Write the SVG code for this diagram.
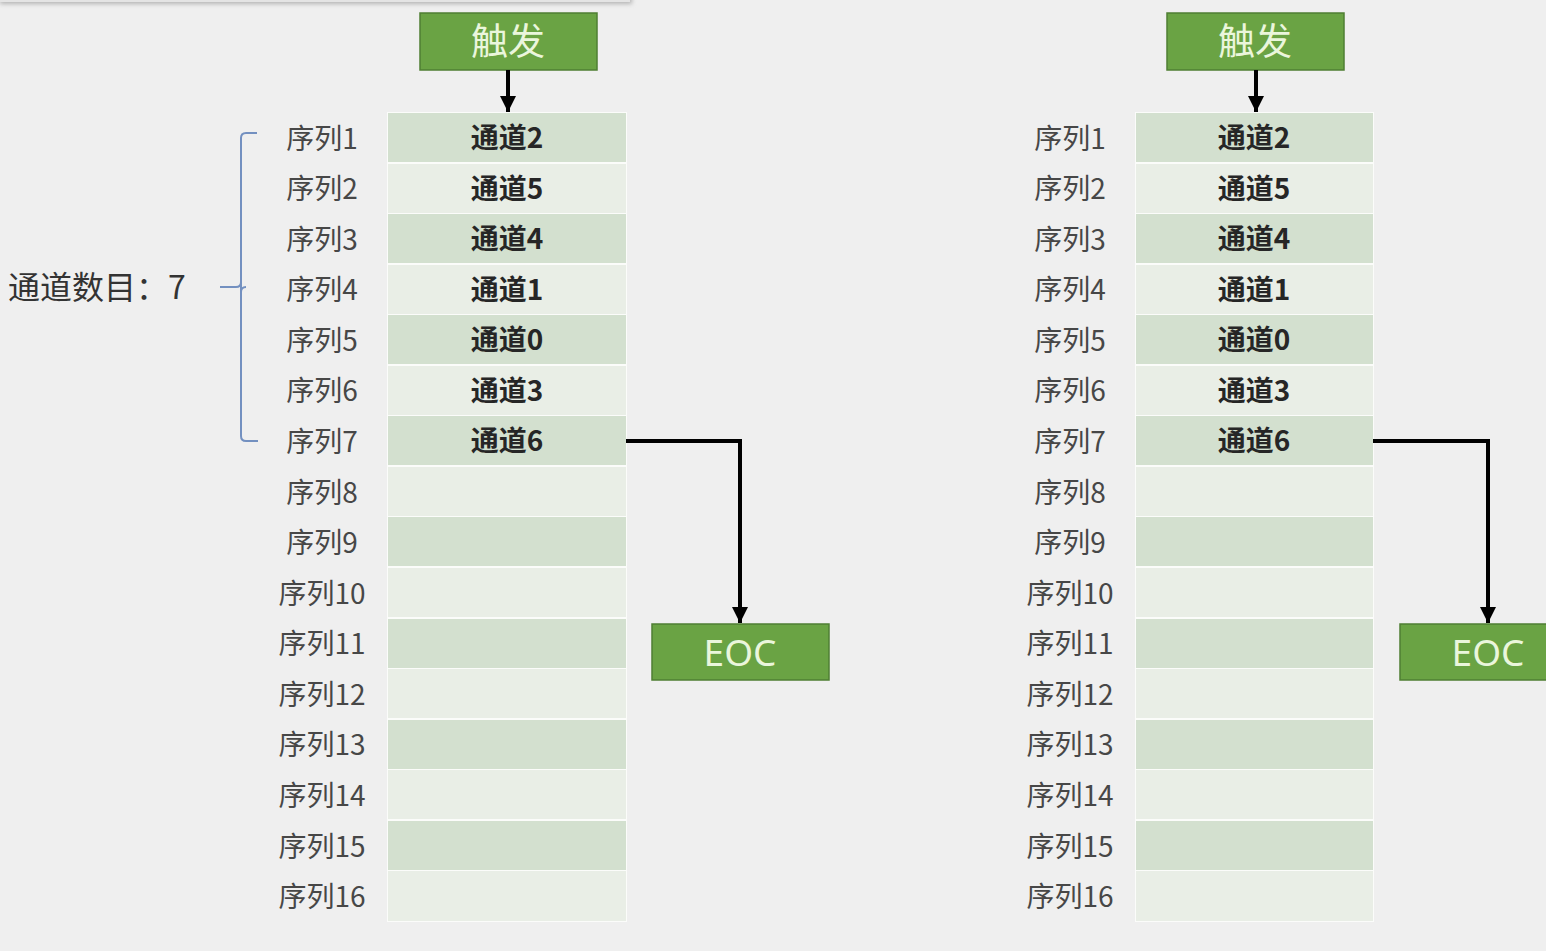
<svg xmlns="http://www.w3.org/2000/svg" width="1546" height="951" viewBox="0 0 1546 951">
<defs>
<style>
.bg{fill:#efefef}
.trig{fill:#6aa344;stroke:#4f7f33;stroke-width:1.5}
.tt{font-family:"Noto Sans CJK SC","Noto Sans",sans-serif;font-size:37px;fill:#eaf6dc;text-anchor:middle}
.et{font-family:"Noto Sans","Noto Sans CJK SC",sans-serif;font-size:37px;fill:#eaf6dc;text-anchor:middle}
.r1{fill:#d3e0cf}
.r2{fill:#e9eee6}
.lab{font-family:"Noto Sans CJK SC","Noto Sans",sans-serif;font-size:28px;fill:#474747;text-anchor:middle}
.ch{font-family:"Noto Sans CJK SC","Noto Sans",sans-serif;font-size:28px;font-weight:bold;fill:#262626;text-anchor:middle}
.conn{fill:none;stroke:#000;stroke-width:4}
.br{fill:none;stroke:#7390c0;stroke-width:2}
</style>
<marker id="ah" viewBox="0 0 10 10" refX="10" refY="5" markerWidth="4" markerHeight="4" orient="auto" markerUnits="strokeWidth">
<path d="M0,0 L10,5 L0,10 Z" fill="#000"/>
</marker>
<filter id="sh" x="-5%" y="-100%" width="110%" height="400%"><feGaussianBlur stdDeviation="2"/></filter>
</defs>
<rect class="bg" x="0" y="0" width="1546" height="951"/>
<rect x="0" y="-6" width="632" height="10" fill="#b5b5b5" filter="url(#sh)"/>
<rect x="0" y="-6" width="630" height="8" fill="#e4e4e4"/>

<g id="left-table">
<rect x="387" y="112" width="240" height="810" fill="#fbfcfa"/>
<rect class="r1" x="388" y="113" width="238" height="49"/>
<rect class="r2" x="388" y="164" width="238" height="49"/>
<rect class="r1" x="388" y="214" width="238" height="49"/>
<rect class="r2" x="388" y="265" width="238" height="49"/>
<rect class="r1" x="388" y="315" width="238" height="49"/>
<rect class="r2" x="388" y="366" width="238" height="49"/>
<rect class="r1" x="388" y="416" width="238" height="49"/>
<rect class="r2" x="388" y="467" width="238" height="49"/>
<rect class="r1" x="388" y="517" width="238" height="49"/>
<rect class="r2" x="388" y="568" width="238" height="49"/>
<rect class="r1" x="388" y="619" width="238" height="49"/>
<rect class="r2" x="388" y="669" width="238" height="49"/>
<rect class="r1" x="388" y="720" width="238" height="49"/>
<rect class="r2" x="388" y="770" width="238" height="49"/>
<rect class="r1" x="388" y="821" width="238" height="49"/>
<rect class="r2" x="388" y="871" width="238" height="50"/>
<g class="ch">
<text x="507" y="148">通道2</text>
<text x="507" y="199">通道5</text>
<text x="507" y="249">通道4</text>
<text x="507" y="300">通道1</text>
<text x="507" y="350">通道0</text>
<text x="507" y="401">通道3</text>
<text x="507" y="451">通道6</text>
</g>
<g class="lab">
<text x="322" y="149">序列1</text>
<text x="322" y="199">序列2</text>
<text x="322" y="250">序列3</text>
<text x="322" y="300">序列4</text>
<text x="322" y="351">序列5</text>
<text x="322" y="401">序列6</text>
<text x="322" y="452">序列7</text>
<text x="322" y="503">序列8</text>
<text x="322" y="553">序列9</text>
<text x="322" y="604">序列10</text>
<text x="322" y="654">序列11</text>
<text x="322" y="705">序列12</text>
<text x="322" y="755">序列13</text>
<text x="322" y="806">序列14</text>
<text x="322" y="857">序列15</text>
<text x="322" y="907">序列16</text>
</g>
</g>

<g id="right-table">
<rect x="1135" y="112" width="239" height="810" fill="#fbfcfa"/>
<rect class="r1" x="1136" y="113" width="237" height="49"/>
<rect class="r2" x="1136" y="164" width="237" height="49"/>
<rect class="r1" x="1136" y="214" width="237" height="49"/>
<rect class="r2" x="1136" y="265" width="237" height="49"/>
<rect class="r1" x="1136" y="315" width="237" height="49"/>
<rect class="r2" x="1136" y="366" width="237" height="49"/>
<rect class="r1" x="1136" y="416" width="237" height="49"/>
<rect class="r2" x="1136" y="467" width="237" height="49"/>
<rect class="r1" x="1136" y="517" width="237" height="49"/>
<rect class="r2" x="1136" y="568" width="237" height="49"/>
<rect class="r1" x="1136" y="619" width="237" height="49"/>
<rect class="r2" x="1136" y="669" width="237" height="49"/>
<rect class="r1" x="1136" y="720" width="237" height="49"/>
<rect class="r2" x="1136" y="770" width="237" height="49"/>
<rect class="r1" x="1136" y="821" width="237" height="49"/>
<rect class="r2" x="1136" y="871" width="237" height="50"/>
<g class="ch">
<text x="1254" y="148">通道2</text>
<text x="1254" y="199">通道5</text>
<text x="1254" y="249">通道4</text>
<text x="1254" y="300">通道1</text>
<text x="1254" y="350">通道0</text>
<text x="1254" y="401">通道3</text>
<text x="1254" y="451">通道6</text>
</g>
<g class="lab">
<text x="1070" y="149">序列1</text>
<text x="1070" y="199">序列2</text>
<text x="1070" y="250">序列3</text>
<text x="1070" y="300">序列4</text>
<text x="1070" y="351">序列5</text>
<text x="1070" y="401">序列6</text>
<text x="1070" y="452">序列7</text>
<text x="1070" y="503">序列8</text>
<text x="1070" y="553">序列9</text>
<text x="1070" y="604">序列10</text>
<text x="1070" y="654">序列11</text>
<text x="1070" y="705">序列12</text>
<text x="1070" y="755">序列13</text>
<text x="1070" y="806">序列14</text>
<text x="1070" y="857">序列15</text>
<text x="1070" y="907">序列16</text>
</g>
</g>

<g id="trigger-left">
<rect class="trig" x="420" y="13" width="177" height="57"/>
<text class="tt" x="508" y="55">触发</text>
</g>
<g id="trigger-right">
<rect class="trig" x="1167" y="13" width="177" height="57"/>
<text class="tt" x="1255" y="55">触发</text>
</g>
<g id="eoc-left">
<rect class="trig" x="652" y="624" width="177" height="56"/>
<text class="et" x="740" y="666">EOC</text>
</g>
<g id="eoc-right">
<rect class="trig" x="1400" y="624" width="177" height="56"/>
<text class="et" x="1488" y="666">EOC</text>
</g>

<g id="bracket">
<path class="br" d="M257,133 L246,133 Q241,133 241,138 L241,436 Q241,441 246,441 L258,441 M241,282 Q241,287 236,287 L220,287 M241,292 Q241,287 246,287"/>
<text x="8" y="299" font-family="Noto Sans CJK SC, Noto Sans, sans-serif" font-size="32" fill="#333">通道数目：7</text>
</g>

<g id="connectors">
<path class="conn" d="M508,70 L508,112" marker-end="url(#ah)"/>
<path class="conn" d="M1256,70 L1256,112" marker-end="url(#ah)"/>
<path class="conn" d="M626,441 L740,441 L740,623" marker-end="url(#ah)"/>
<path class="conn" d="M1373,441 L1488,441 L1488,623" marker-end="url(#ah)"/>
</g>
</svg>
